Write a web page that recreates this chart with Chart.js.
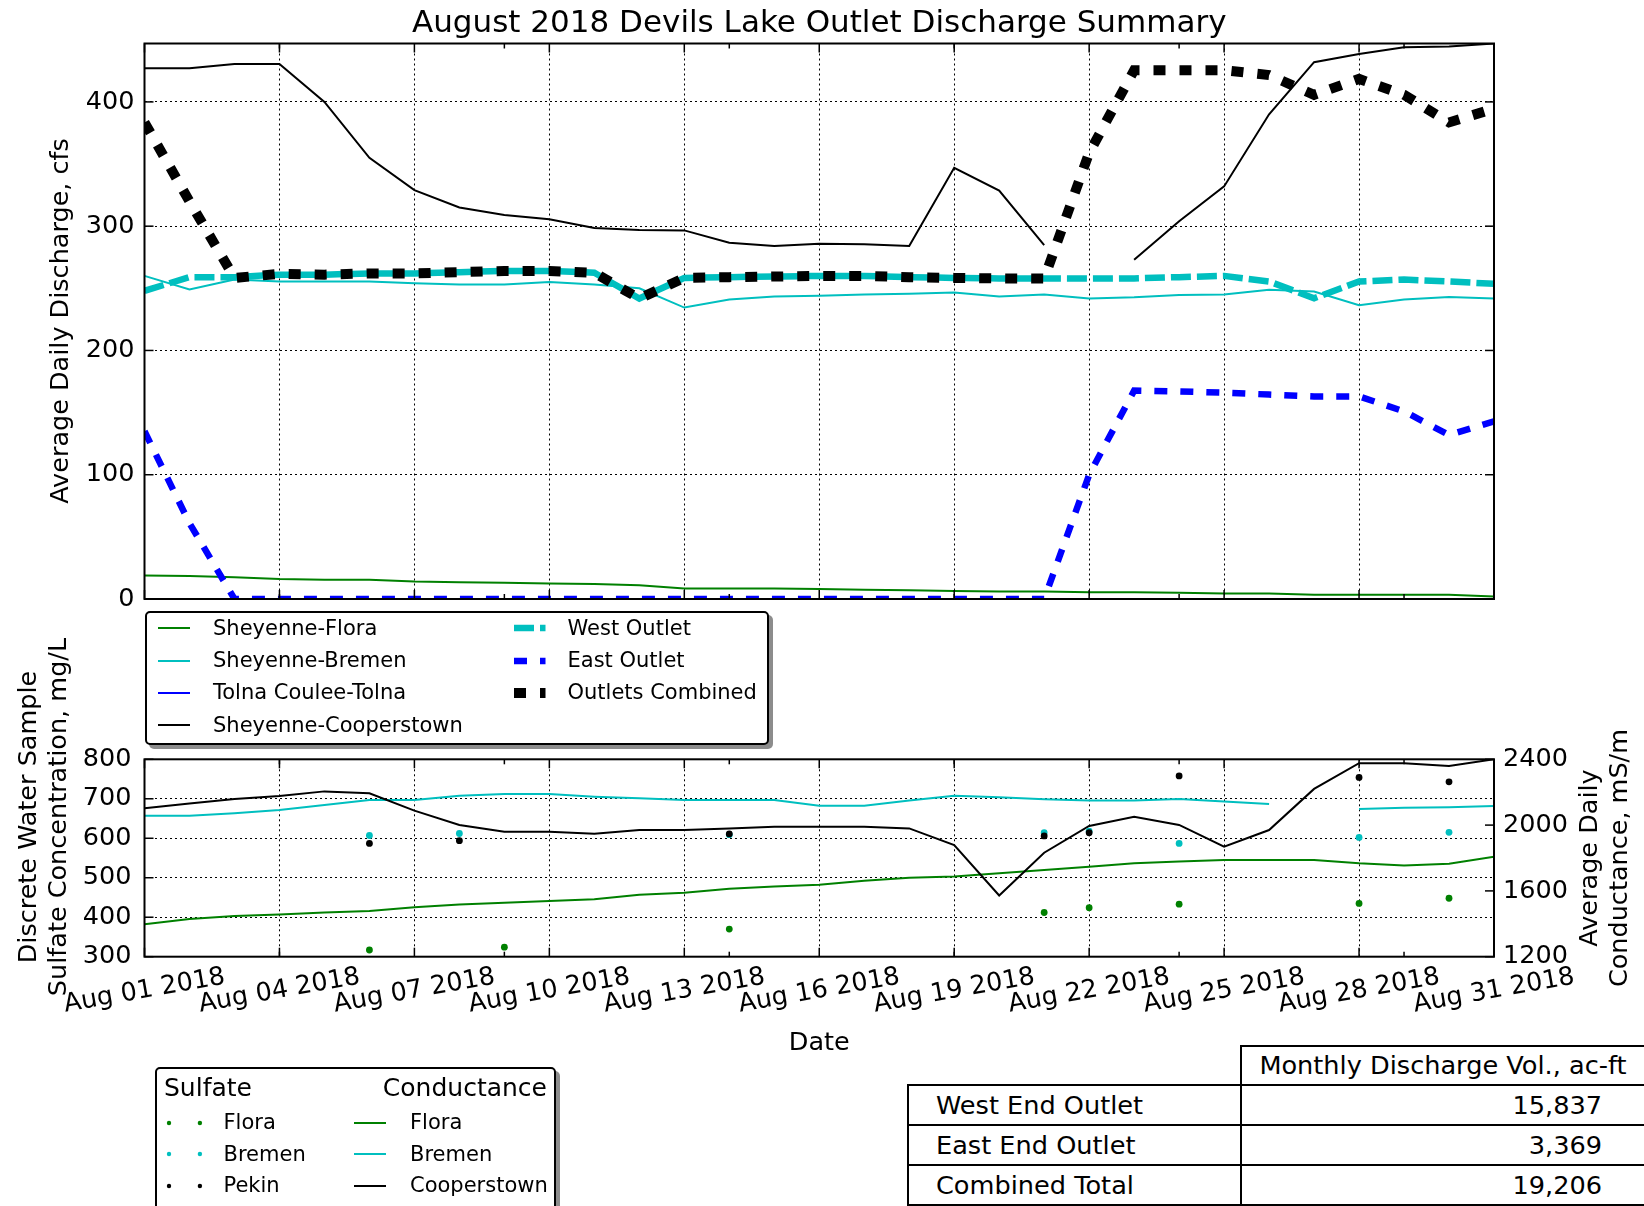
<!DOCTYPE html>
<html>
<head>
<meta charset="utf-8">
<title>August 2018 Devils Lake Outlet Discharge Summary</title>
<script src="https://cdn.jsdelivr.net/npm/chart.js@4.4.1/dist/chart.umd.min.js"></script>
<style>
  html, body { margin:0; padding:0; background:#fff; }
  body { width:1644px; height:1206px; position:relative; overflow:hidden; font-family:'DejaVu Sans', sans-serif; color:#000; }
  canvas { position:absolute; left:0; }
  .box { position:absolute; border:2px solid #000; border-radius:5px; background:#fff; box-shadow:4px 4px 0 rgba(0,0,0,0.45); box-sizing:border-box; }
  .t { position:absolute; white-space:nowrap; }
  .cell { position:absolute; border:2px solid #000; box-sizing:border-box; font-size:25.6px; white-space:nowrap; background:#fff; }
</style>
</head>
<body>
<canvas id="topChart" width="1644" height="610" style="top:0"></canvas>
<canvas id="bottomChart" width="1644" height="470" style="top:600px"></canvas>
<div class="box" style="left:144.5px;top:611px;width:624px;height:134px"></div>
<div class="box" style="left:154.5px;top:1067px;width:401px;height:170px"></div>
<script>
// ---------------- DATA ----------------
const dates = ['Aug 01 2018','Aug 02 2018','Aug 03 2018','Aug 04 2018','Aug 05 2018','Aug 06 2018','Aug 07 2018','Aug 08 2018','Aug 09 2018','Aug 10 2018',
  'Aug 11 2018','Aug 12 2018','Aug 13 2018','Aug 14 2018','Aug 15 2018','Aug 16 2018','Aug 17 2018','Aug 18 2018','Aug 19 2018','Aug 20 2018',
  'Aug 21 2018','Aug 22 2018','Aug 23 2018','Aug 24 2018','Aug 25 2018','Aug 26 2018','Aug 27 2018','Aug 28 2018','Aug 29 2018','Aug 30 2018','Aug 31 2018'];
const majorTickLabels = ['Aug 01 2018','Aug 04 2018','Aug 07 2018','Aug 10 2018','Aug 13 2018','Aug 16 2018','Aug 19 2018','Aug 22 2018','Aug 25 2018','Aug 28 2018','Aug 31 2018'];
const minorTickDates = ['Aug 04 2018','Aug 09 2018','Aug 14 2018','Aug 19 2018','Aug 24 2018','Aug 29 2018'];

// Average daily discharge, cfs
const flowFlora = [19,18.5,17.5,16,15.5,15.5,14,13.5,13,12.5,12,11,8.5,8.5,8.5,8,7.5,7,6.5,6,6,5.5,5.5,5,4.5,4.5,3.5,3.5,3.5,3.5,2];
const flowBremen = [260,249,257,255.5,255.5,255.5,254,253,253,255,253,250,234.5,241,243.4,244,245,245.7,246.6,243.4,245,241.8,242.8,244.7,245,248.8,247.5,236.4,241,243,241.8];
const flowTolna = [];
const flowCooperstown = [427,427,430.5,430.5,400,355,329,315,309,305.5,298.5,297,296.6,286.7,284,285.8,285.5,284,347,328.6,284.8,null,273,304,332,390,432,438.5,444,444.5,447];
const westOutlet = [248,259,259,261,261,262,262,263,264,264,262.5,241.8,258.4,259,259.5,260,260,259,258.4,258,258,257.8,258,259,260,255.5,242,255.5,257,255.5,253.6];
const eastOutlet = [135,61,0,0,0,0,0,0,0,0,0,0,0,0,0,0,0,0,0,0,0,100,167.7,167,166,164.5,163,163,151,132,143];
const outletsCombined = [383.5,320,258.4,261.6,261,262,262,263,264,264,262.5,241.8,258.4,259,259.5,260,260,259,258.4,258,257.8,359,425.5,425.5,425.5,421.6,405.7,418.5,405.7,383.5,394.6];

// Average daily conductance, mS/m (right axis)
const condFlora = [1397,1429,1447,1457,1468,1478,1500,1518,1528,1538,1549,1577,1589,1613,1626,1638,1662,1680,1688,1707,1727,1747,1768,1778,1788,1788,1788,1768,1755,1765,1808];
const condBremen = [2057,2057,2072,2092,2122,2153,2153,2179,2189,2189,2173,2163,2153,2153,2153,2117,2118,2149,2179,2169,2157,2149,2149,2159,2143,2128,null,2098,2106,2108,2116];
const condCooperstown = [2102,2132,2159,2177,2205,2193,2088,2001,1960,1960,1948,1970,1970,1980,1990,1990,1990,1980,1879,1572,1832,1995,2051,2001,1869,1970,2220,2376,2376,2360,2400];

// Discrete sample sulfate concentration, mg/L (left axis)
const sulfFlora  = [null,null,null,null,null,317,null,null,324,null,null,null,null,370,null,null,null,null,null,null,412,424,null,433,null,null,null,435,null,448,null];
const sulfBremen = [null,null,null,null,null,607,null,612,null,null,null,null,null,609,null,null,null,null,null,null,614,618,null,587,null,null,null,602,null,615,null];
const sulfPekin  = [null,null,null,null,null,587,null,594,null,null,null,null,null,611,null,null,null,null,null,null,606,614,null,758,null,null,null,754,null,743,null];

// Summary table
const tableHeader = 'Monthly Discharge Vol., ac-ft';
const tableRowLabels = ['West End Outlet','East End Outlet','Combined Total'];
const tableRowValues = ['15,837','3,369','19,206'];

// ---------------- STYLE ----------------
const GREEN = '#008000', CYAN = '#00BFBF', BLUE = '#0000FF', BLACK = '#000000';
const FONT = "'DejaVu Sans', sans-serif";
const TICK_SIZE = 25.5, TITLE_SIZE = 25.5;
const majorIdx = majorTickLabels.map(l => dates.indexOf(l));
const xGridColor = c => majorIdx.includes(c.index) ? BLACK : 'rgba(0,0,0,0)';

function lineDs(label, data, color, width, dash, order, axis) {
  return { label, data, borderColor: color, backgroundColor: color, borderWidth: width, borderDash: dash,
    borderCapStyle: 'butt', pointRadius: 0, pointHoverRadius: 0, fill: false, tension: 0, spanGaps: false,
    clip: 0, order, yAxisID: axis };
}
function dotDs(label, data, color, order) {
  return { label, data, showLine: false, borderColor: color, backgroundColor: color, pointRadius: 3.4,
    pointBorderWidth: 0, pointHoverRadius: 3.4, order, yAxisID: 'y', clip: 0 };
}
const fitY = w => s => { s.width = w; s.paddingTop = 0; s.paddingBottom = 0; };
const fitX = h => s => { s.height = h; s.paddingLeft = 0; s.paddingRight = 0; };

const decor = {
  id: 'decor',
  afterDatasetsDraw(chart, args, o) {
    const { ctx, chartArea: a } = chart;
    const xs = chart.scales.x;
    const seg = (x1, y1, x2, y2) => { ctx.beginPath(); ctx.moveTo(x1, y1); ctx.lineTo(x2, y2); ctx.stroke(); };
    ctx.save();
    ctx.setLineDash([]);
    ctx.strokeStyle = BLACK; ctx.lineWidth = 1.5;
    majorTickLabels.forEach(l => { const px = xs.getPixelForValue(dates.indexOf(l)); seg(px, a.bottom, px, a.bottom - 9); seg(px, a.top, px, a.top + 9); });
    minorTickDates.forEach(l => { const px = xs.getPixelForValue(dates.indexOf(l)); seg(px, a.bottom, px, a.bottom - 5); seg(px, a.top, px, a.top + 5); });
    const yl = chart.scales[o.leftAxis];
    yl.ticks.forEach(t => { const py = yl.getPixelForValue(t.value); seg(a.left, py, a.left + 9, py); if (!o.rightAxis) seg(a.right, py, a.right - 9, py); });
    if (o.rightAxis) {
      const yr = chart.scales[o.rightAxis];
      yr.ticks.forEach(t => { const py = yr.getPixelForValue(t.value); seg(a.right, py, a.right - 9, py); });
    }
    ctx.lineWidth = 2;
    ctx.strokeRect(a.left, a.top, a.right - a.left, a.bottom - a.top);
    ctx.fillStyle = BLACK;
    (o.texts || []).forEach(t => {
      ctx.save();
      ctx.font = t.size + 'px ' + FONT;
      ctx.textAlign = 'center';
      ctx.textBaseline = t.baseline || 'alphabetic';
      ctx.translate(t.x === 'mid' ? (a.left + a.right) / 2 : t.x, t.y);
      if (t.rot) ctx.rotate(t.rot * Math.PI / 180);
      ctx.fillText(t.text, 0, 0);
      ctx.restore();
    });
    if (o.xLabelY) {
      ctx.font = TICK_SIZE + 'px ' + FONT; ctx.textAlign = 'center'; ctx.textBaseline = 'middle';
      majorTickLabels.forEach(l => {
        const px = xs.getPixelForValue(dates.indexOf(l));
        ctx.save(); ctx.translate(px, o.xLabelY); ctx.rotate(-10 * Math.PI / 180); ctx.fillText(l, 0, 0); ctx.restore();
      });
    }
    ctx.restore();
  }
};

const tickFont = { family: FONT, size: TICK_SIZE };
const plainTick = v => String(v);

// ---------------- TOP CHART ----------------
new Chart(document.getElementById('topChart'), {
  type: 'line',
  data: {
    labels: dates,
    datasets: [
      lineDs('Sheyenne-Flora', flowFlora, GREEN, 2, [], 7, 'y'),
      lineDs('Sheyenne-Bremen', flowBremen, CYAN, 2, [], 6, 'y'),
      lineDs('Tolna Coulee-Tolna', flowTolna, BLUE, 2, [], 5, 'y'),
      lineDs('Sheyenne-Cooperstown', flowCooperstown, BLACK, 2, [], 4, 'y'),
      lineDs('West Outlet', westOutlet, CYAN, 6.5, [20, 6], 3, 'y'),
      lineDs('East Outlet', eastOutlet, BLUE, 6.5, [13, 13], 2, 'y'),
      lineDs('Outlets Combined', outletsCombined, BLACK, 10, [12, 14], 1, 'y')
    ]
  },
  options: {
    responsive: false, animation: false, devicePixelRatio: 1, events: [],
    layout: { autoPadding: false, padding: { left: 0, right: 150, top: 43.5, bottom: 0 } },
    plugins: {
      legend: { display: false }, tooltip: { enabled: false }, title: { display: false },
      decor: {
        leftAxis: 'y',
        texts: [
          { text: 'August 2018 Devils Lake Outlet Discharge Summary', x: 'mid', y: 32, size: 31 },
          { text: 'Average Daily Discharge, cfs', x: 68, y: 321, size: TITLE_SIZE, rot: -90 }
        ]
      }
    },
    scales: {
      x: { type: 'category', offset: false, ticks: { display: false },
           grid: { color: xGridColor, lineWidth: 1, drawTicks: false }, border: { display: false, dash: [2, 3] },
           afterFit: fitX(11) },
      y: { type: 'linear', min: 0, max: 447,
           ticks: { stepSize: 100, includeBounds: false, padding: 10, color: BLACK, font: tickFont, callback: plainTick },
           grid: { color: BLACK, lineWidth: 1, drawTicks: false }, border: { display: false, dash: [2, 3] },
           afterFit: fitY(144.5) }
    }
  },
  plugins: [decor]
});

// ---------------- BOTTOM CHART ----------------
new Chart(document.getElementById('bottomChart'), {
  type: 'line',
  data: {
    labels: dates,
    datasets: [
      lineDs('Flora', condFlora, GREEN, 2, [], 6, 'y2'),
      lineDs('Bremen', condBremen, CYAN, 2, [], 5, 'y2'),
      lineDs('Cooperstown', condCooperstown, BLACK, 2, [], 4, 'y2'),
      dotDs('Flora', sulfFlora, GREEN, 3),
      dotDs('Bremen', sulfBremen, CYAN, 2),
      dotDs('Pekin', sulfPekin, BLACK, 1)
    ]
  },
  options: {
    responsive: false, animation: false, devicePixelRatio: 1, events: [],
    layout: { autoPadding: false, padding: { left: 0, right: 0, top: 159.3, bottom: 0 } },
    plugins: {
      legend: { display: false }, tooltip: { enabled: false }, title: { display: false },
      decor: {
        leftAxis: 'y', rightAxis: 'y2', xLabelY: 391,
        texts: [
          { text: 'Discrete Water Sample', x: 36, y: 217, size: TITLE_SIZE, rot: -90 },
          { text: 'Sulfate Concentration, mg/L', x: 66, y: 217, size: TITLE_SIZE, rot: -90 },
          { text: 'Average Daily', x: 1597, y: 258, size: TITLE_SIZE, rot: -90 },
          { text: 'Conductance, mS/m', x: 1627, y: 258, size: TITLE_SIZE, rot: -90 },
          { text: 'Date', x: 'mid', y: 443, size: TITLE_SIZE, baseline: 'middle' }
        ]
      }
    },
    scales: {
      x: { type: 'category', offset: false, ticks: { display: false },
           grid: { color: xGridColor, lineWidth: 1, drawTicks: false }, border: { display: false, dash: [2, 3] },
           afterFit: fitX(113.3) },
      y: { type: 'linear', position: 'left', min: 300, max: 800,
           ticks: { stepSize: 100, padding: 13, color: BLACK, font: tickFont, callback: plainTick },
           grid: { color: BLACK, lineWidth: 1, drawTicks: false }, border: { display: false, dash: [2, 3] },
           afterFit: fitY(144.5) },
      y2: { type: 'linear', position: 'right', min: 1200, max: 2400,
           ticks: { stepSize: 200, padding: 9, color: BLACK, font: tickFont, callback: plainTick },
           grid: { drawOnChartArea: false, drawTicks: false }, border: { display: false },
           afterFit: fitY(150) }
    }
  },
  plugins: [decor]
});

// ---------------- LEGENDS (HTML) ----------------
const SVGNS = 'http://www.w3.org/2000/svg';
function handleLine(x1, x2, yc, color, w, dash) {
  const s = document.createElementNS(SVGNS, 'svg');
  s.setAttribute('width', x2 - x1); s.setAttribute('height', 24);
  s.style.cssText = 'position:absolute;left:' + x1 + 'px;top:' + (yc - 12) + 'px;overflow:visible';
  const ln = document.createElementNS(SVGNS, 'line');
  ln.setAttribute('x1', 0); ln.setAttribute('y1', 12); ln.setAttribute('x2', x2 - x1); ln.setAttribute('y2', 12);
  ln.setAttribute('stroke', color); ln.setAttribute('stroke-width', w);
  if (dash.length) ln.setAttribute('stroke-dasharray', dash.join(' '));
  s.appendChild(ln); document.body.appendChild(s);
}
function handleDots(xs, yc, color) {
  const s = document.createElementNS(SVGNS, 'svg');
  s.setAttribute('width', 60); s.setAttribute('height', 10);
  s.style.cssText = 'position:absolute;left:' + (xs[0] - 5) + 'px;top:' + (yc - 5) + 'px;overflow:visible';
  xs.forEach(x => {
    const c = document.createElementNS(SVGNS, 'circle');
    c.setAttribute('cx', x - xs[0] + 5); c.setAttribute('cy', 5); c.setAttribute('r', 2.2); c.setAttribute('fill', color);
    s.appendChild(c);
  });
  document.body.appendChild(s);
}
function label(text, x, yc, size, right) {
  const d = document.createElement('div'); d.className = 't'; d.textContent = text;
  const lh = Math.round(size * 1.2);
  d.style.cssText = 'font-size:' + size + 'px;line-height:' + lh + 'px;top:' + (yc - lh / 2) + 'px;' + (right ? 'right:' + (1644 - x) + 'px;' : 'left:' + x + 'px;');
  document.body.appendChild(d);
}

const legend1Left = [
  { text: 'Sheyenne-Flora', color: GREEN, w: 2, dash: [] },
  { text: 'Sheyenne-Bremen', color: CYAN, w: 2, dash: [] },
  { text: 'Tolna Coulee-Tolna', color: BLUE, w: 2, dash: [] },
  { text: 'Sheyenne-Cooperstown', color: BLACK, w: 2, dash: [] }
];
const legend1Right = [
  { text: 'West Outlet', color: CYAN, w: 6.5, dash: [20, 6] },
  { text: 'East Outlet', color: BLUE, w: 6.5, dash: [13, 13] },
  { text: 'Outlets Combined', color: BLACK, w: 10, dash: [12, 14] }
];
const legend1Rows = [628.3, 660.5, 692.7, 725];
legend1Left.forEach((it, i) => { handleLine(158, 190, legend1Rows[i], it.color, it.w, it.dash); label(it.text, 213, legend1Rows[i], 21); });
legend1Right.forEach((it, i) => { handleLine(513.5, 545, legend1Rows[i], it.color, it.w, it.dash); label(it.text, 567.5, legend1Rows[i], 21); });

label('Sulfate', 164, 1088, 25);
label('Conductance', 547, 1088, 25, true);
const legend2Rows = [1122.5, 1154, 1185.5];
[{ s: 'Flora', c: 'Flora', color: GREEN }, { s: 'Bremen', c: 'Bremen', color: CYAN }, { s: 'Pekin', c: 'Cooperstown', color: BLACK }]
  .forEach((it, i) => {
    handleDots([168.6, 199.5], legend2Rows[i], it.color);
    label(it.s, 223.5, legend2Rows[i], 21);
    handleLine(354, 386, legend2Rows[i], it.color, 2, []);
    label(it.c, 410, legend2Rows[i], 21);
  });

// ---------------- TABLE ----------------
function cell(x, y, w, h, text, align, pad) {
  const d = document.createElement('div'); d.className = 'cell'; d.textContent = text;
  d.style.cssText = 'left:' + x + 'px;top:' + y + 'px;width:' + w + 'px;height:' + h + 'px;line-height:' + (h - 4) + 'px;text-align:' + align + ';' + pad;
  document.body.appendChild(d);
}
cell(1240, 1045, 406, 41, tableHeader, 'center', '');
tableRowLabels.forEach((r, i) => {
  const y = 1084 + 40 * i;
  cell(907, y, 335, 42, r, 'left', 'padding-left:27px;');
  cell(1240, y, 406, 42, tableRowValues[i], 'right', 'padding-right:42px;');
});
</script>
</body>
</html>
